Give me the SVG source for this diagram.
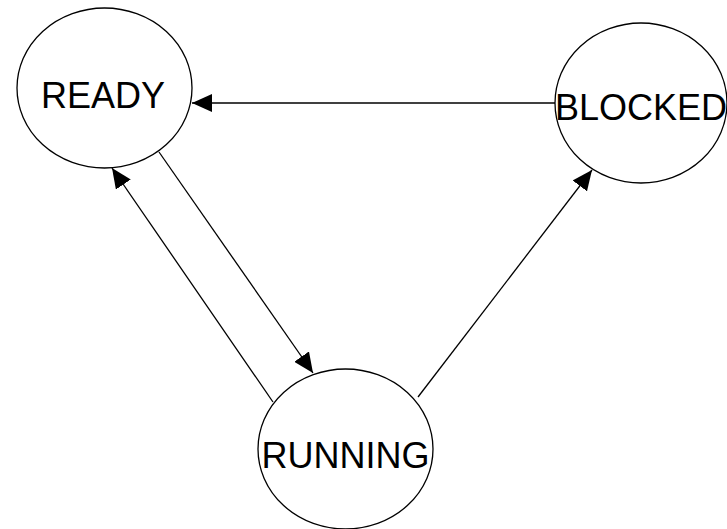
<svg xmlns="http://www.w3.org/2000/svg" width="727" height="529" viewBox="0 0 727 529">
<style>
.node ellipse{fill:#fff;stroke:#000;stroke-width:1.3}
.node text{font-family:"Liberation Sans",Arial,sans-serif;font-size:36px;fill:#000;text-anchor:middle}
.edge{stroke:#000;stroke-width:1.3;fill:none;marker-end:url(#arr)}
</style>
<defs>
<marker id="arr" markerUnits="userSpaceOnUse" markerWidth="20" markerHeight="18" refX="20" refY="9" orient="auto">
<path d="M0,0 L20,9 L0,18 z" fill="#000"/>
</marker>
</defs>
<rect width="727" height="529" fill="#fff"/>
<g id="edges">
<line class="edge" x1="555" y1="103" x2="192" y2="103"/>
<line class="edge" x1="159" y1="152" x2="313" y2="373"/>
<line class="edge" x1="273" y1="402" x2="112" y2="168"/>
<line class="edge" x1="418" y1="397" x2="592" y2="170"/>
</g>
<g id="ready" class="node">
<ellipse cx="104.5" cy="88" rx="87.5" ry="80"/>
<text x="103" y="108">READY</text>
</g>
<g id="blocked" class="node">
<ellipse cx="641" cy="103" rx="86" ry="80"/>
<text x="641" y="120">BLOCKED</text>
</g>
<g id="running" class="node">
<ellipse cx="345.5" cy="449" rx="87.5" ry="80"/>
<text x="345.5" y="468">RUNNING</text>
</g>
</svg>
